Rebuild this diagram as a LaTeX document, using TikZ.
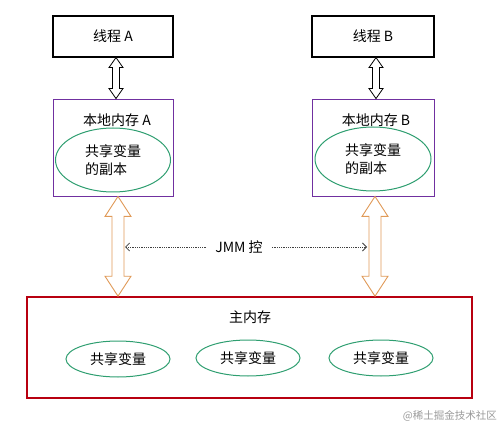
\documentclass[tikz,border=0pt]{standalone}
\usepackage{fontspec}
\setmainfont{Noto Sans CJK SC}
\usetikzlibrary{calc,arrows.meta,shapes.geometric}
\definecolor{boxpurple}{HTML}{7030A0}
\definecolor{ellgreen}{HTML}{2E9E70}
\definecolor{memred}{HTML}{B80010}
\definecolor{arrorange}{HTML}{E09A58}
\tikzset{
  x=1pt, y=1pt,
  every node/.style={font=\fontsize{14}{17.5}\selectfont, inner sep=0pt},
  threadbox/.style={draw=black, line width=1.1pt, minimum width=120pt, minimum height=41pt},
  localbox/.style={draw=boxpurple, line width=0.9pt, minimum width=120pt, minimum height=97pt},
  mainbox/.style={draw=memred, line width=1.6pt, minimum width=445pt, minimum height=101pt},
  varell/.style={draw=ellgreen, line width=1pt, ellipse, minimum width=104pt, minimum height=36pt},
  copyell/.style={draw=ellgreen, line width=1pt, ellipse, minimum width=115pt, minimum height=64pt, align=left},
  blackarrow/.style={draw=black, line width=0.8pt, fill=white},
  orangearrow/.style={draw=arrorange, line width=0.9pt, fill=white},
  jmmline/.style={densely dotted, line width=0.8pt, draw=black!75, -{Straight Barb[length=4pt,width=8pt]}},
}
\begin{document}
\begin{tikzpicture}
\useasboundingbox (0,0) rectangle (497,-427);
% thread boxes
\node[threadbox] (ta) at (113,-36.5) {线程 A};
\node[threadbox, minimum width=122pt] (tb) at (373,-36.5) {线程 B};
% local memory boxes
\node[localbox] (la) at (113,-147.5) {};
\node[localbox, minimum width=122pt] (lb) at (373,-147.5) {};
\node (lat) at (117,-120) {本地内存 A};
\node (lbt) at (376,-120) {本地内存 B};
\node[copyell] (ca) at (113,-160) {共享变量\\的副本};
\node[copyell, minimum width=116pt] (cb) at (373,-159) {共享变量\\的副本};
% main memory
\node[mainbox] (mm) at (249.5,-347.5) {};
\node (mmt) at (250,-317) {主内存};
\node[varell] (v1) at (118,-359) {共享变量};
\node[varell] (v2) at (248,-358) {共享变量};
\node[varell] (v3) at (381,-358) {共享变量};
% black hollow double arrows
\foreach \t/\l in {ta/la, tb/lb}{
  \path[blackarrow] let \p1=($(\t.south)+(3,0)$), \p2=(\l.north) in
    (\x1,\y1) -- (\x1+7,\y1-10) -- (\x1+3.5,\y1-10) -- (\x1+3.5,\y2+10) -- (\x1+7,\y2+10)
    -- (\x1,\y2) -- (\x1-7,\y2+10) -- (\x1-3.5,\y2+10) -- (\x1-3.5,\y1-10) -- (\x1-7,\y1-10) -- cycle;
}
% orange hollow double arrows
\foreach \l/\dx in {la/5, lb/2}{
  \path[orangearrow] let \p1=($(\l.south)+(\dx,0)$), \p2=(mm.north) in
    (\x1,\y1) -- (\x1+13,\y1-20) -- (\x1+6,\y1-20) -- (\x1+6,\y2+20) -- (\x1+13,\y2+20)
    -- (\x1,\y2) -- (\x1-13,\y2+20) -- (\x1-6,\y2+20) -- (\x1-6,\y1-20) -- (\x1-13,\y1-20) -- cycle;
}
% JMM control
\node (jmm) at (239,-247) {JMM 控};
\coordinate (jl) at (125,-247);
\coordinate (jr) at (367,-247);
\draw[jmmline] ($(jmm.west)+(-9,0)$) -- (jl);
\draw[jmmline] ($(jmm.east)+(9,0)$) -- (jr);
% watermark
\node[font=\fontsize{10.5}{12}\selectfont, text=black!40, anchor=east] (wm) at (497,-416) {@稀土掘金技术社区};
\end{tikzpicture}
\end{document}
